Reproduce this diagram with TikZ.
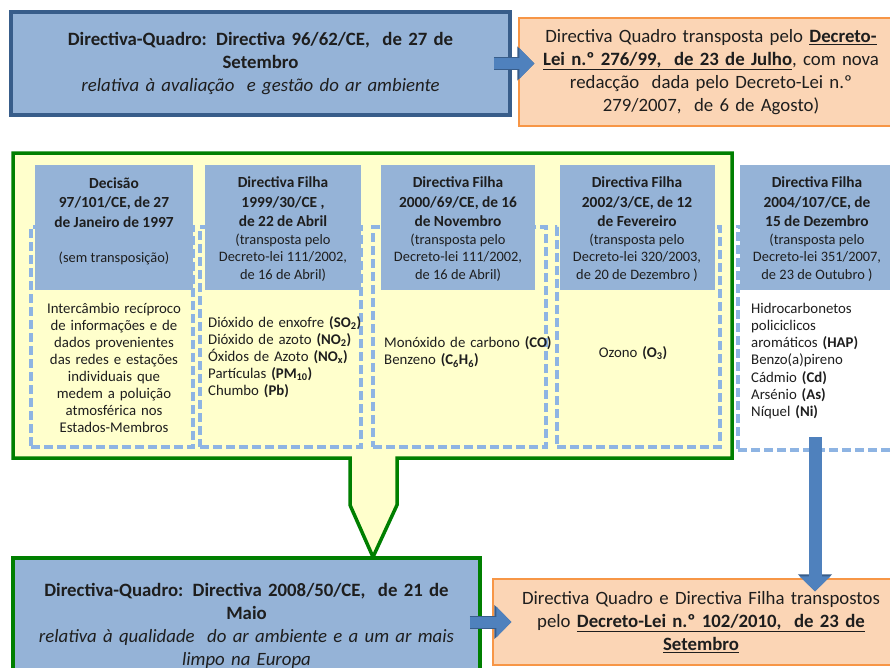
\documentclass[tikz,border=0pt]{standalone}
\usepackage{fontspec}
\setmainfont{Carlito}
\usetikzlibrary{arrows.meta}
\definecolor{hdrblue}{HTML}{95B3D7}
\definecolor{dashblue}{HTML}{8EB4E3}
\definecolor{navy}{HTML}{385D8A}
\definecolor{arrblue}{HTML}{4F81BD}
\definecolor{peach}{HTML}{FBD5B5}
\definecolor{orangeb}{HTML}{F79646}
\definecolor{grn}{HTML}{007F00}
\definecolor{pale}{HTML}{FFFFCC}
\definecolor{ink}{HTML}{1E1E1E}
\newcommand\myBig{\fontsize{18.8}{23}\selectfont}
\newcommand\myHdr{\fontsize{15.4}{19.5}\selectfont\bfseries}
\newcommand\mySub{\fontsize{14.4}{17.5}\selectfont\mdseries}
\newcommand\myBody{\fontsize{14.8}{17.1}\selectfont}
\begin{document}
\begin{tikzpicture}[x=1pt,y=-1pt,
  every node/.style={text=ink, inner sep=0pt},
  bigbox/.style={draw=navy, line width=3.5pt, fill=hdrblue, font=\myBig, align=center},
  greenbox/.style={draw=grn, line width=3.5pt, fill=hdrblue, font=\myBig, align=center},
  peachbox/.style={draw=orangeb, line width=1.3pt, fill=peach, font=\myBig, align=center},
  dbox/.style={draw=dashblue, line width=3.5pt, dash pattern=on 9pt off 4pt, fill=pale},
  hbox/.style={fill=hdrblue, minimum height=125pt},
  htext/.style={text width=165pt, align=center},
  btext/.style={text width=175pt, font=\myBody},
  callout/.style={draw=grn, line width=3.5pt, fill=pale, line join=miter},
  barrow/.style={line width=11pt, draw=arrblue, -{Triangle[length=15pt,width=30pt]},
    preaction={draw=navy, line width=13pt, -{Triangle[length=17pt,width=33pt]}}}
]
\useasboundingbox (0,0) rectangle (890,667);
\clip (0,0) rectangle (890,667);
\fill[white] (0,0) rectangle (890,667);

% green callout
\draw[callout] (13,153) -- (732,153) -- (732,458) -- (397,458) -- (397,505)
  -- (373,557) -- (350,505) -- (350,458) -- (13,458) -- cycle;

% dashed column boxes
\node[dbox, minimum width=162pt, minimum height=220pt] (d1) at (112,337) {};
\node[dbox, minimum width=161pt, minimum height=220pt] (d2) at (280.5,337) {};
\node[dbox, minimum width=173pt, minimum height=220pt] (d3) at (459.5,337) {};
\node[dbox, minimum width=163pt, minimum height=220pt] (d4) at (638.5,337) {};
\node[dbox, fill=white, minimum width=172pt, minimum height=223pt] (d5) at (824,338.5) {};

% header boxes
\node[hbox, minimum width=158pt] (h1) at (114,227.5) {};
\node[hbox, minimum width=156pt] (h2) at (283,227.5) {};
\node[hbox, minimum width=154pt] (h3) at (458,227.5) {};
\node[hbox, minimum width=155pt] (h4) at (637.5,227.5) {};
\node[hbox, minimum width=156pt] (h5) at (818,227.5) {};

% header texts
\node[htext] (h1t) at (114,221) {\myHdr Decisão\\97/101/CE, de 27\\de Janeiro de 1997\par\mySub\vspace{17.5pt}(sem transposição)\par};
\node[htext] (h2t) at (283,229) {\myHdr Directiva Filha\\1999/30/CE ,\\de 22 de Abril\par\mySub (transposta pelo\\Decreto-lei 111/2002,\\de 16 de Abril)\par};
\node[htext] (h3t) at (458,229) {\myHdr Directiva Filha\\2000/69/CE, de 16\\de Novembro\par\mySub (transposta pelo\\Decreto-lei 111/2002,\\de 16 de Abril)\par};
\node[htext] (h4t) at (637,229) {\myHdr Directiva Filha\\2002/3/CE, de 12\\de Fevereiro\par\mySub (transposta pelo\\Decreto-lei 320/2003,\\de 20 de Dezembro )\par};
\node[htext] (h5t) at (817,229) {\myHdr Directiva Filha\\2004/107/CE, de\\15 de Dezembro\par\mySub (transposta pelo\\Decreto-lei 351/2007,\\de 23 de Outubro )\par};

% body texts
\node[btext, align=center] (b1) at (114,368) {Intercâmbio recíproco\\de informações e de\\dados provenientes\\das redes e estações\\individuais que\\medem a poluição\\atmosférica nos\\Estados-Membros};
\node[btext, align=left, anchor=west] (b2) at (208,357) {Dióxido de enxofre \textbf{(SO\textsubscript{2})}\\Dióxido de azoto \textbf{(NO\textsubscript{2})}\\Óxidos de Azoto \textbf{(NO\textsubscript{x})}\\Partículas \textbf{(PM\textsubscript{10})}\\Chumbo \textbf{(Pb)}};
\node[btext, align=left, anchor=west] (b3) at (384,352) {Monóxido de carbono \textbf{(CO)}\\Benzeno \textbf{(C\textsubscript{6}H\textsubscript{6})}};
\node[btext, align=center] (b4) at (633,353) {Ozono \textbf{(O\textsubscript{3})}};
\node[btext, align=left, anchor=west, text width=135pt] (b5) at (751,361) {Hidrocarbonetos\\policiclicos\\aromáticos \textbf{(HAP)}\\Benzo(a)pireno\\Cádmio \textbf{(Cd)}\\Arsénio \textbf{(As)}\\Níquel \textbf{(Ni)}};

% main boxes
\node[bigbox, minimum width=499pt, minimum height=103pt, text width=480pt] (top) at (260.5,63.5)
  {\bfseries Directiva-Quadro: Directiva 96/62/CE,\ \ de 27 de\\Setembro\par\mdseries\itshape relativa à avaliação\ \ e gestão do ar ambiente};
\node[peachbox, minimum width=384pt, minimum height=108pt, text width=375pt] (tr) at (711,72)
  {Directiva Quadro transposta pelo \textbf{\underline{Decreto-}}\\\textbf{\underline{Lei n.º 276/99,\ \ de 23 de Julho}}, com nova\\redacção\ \ dada pelo Decreto-Lei n.º\\279/2007,\ \ de 6 de Agosto)};
\node[greenbox, minimum width=467pt, minimum height=136pt, text width=455pt] (bl) at (246.5,626)
  {\bfseries Directiva-Quadro: Directiva 2008/50/CE,\ \ de 21 de\\Maio\par\mdseries\itshape relativa à qualidade\ \ do ar ambiente e a um ar mais\\limpo na Europa};
\node[peachbox, minimum width=416pt, minimum height=86pt, text width=405pt] (br) at (701,622)
  {Directiva Quadro e Directiva Filha transpostos\\pelo \textbf{\underline{Decreto-Lei n.º 102/2010,\ \ de 23 de}}\\\textbf{\underline{Setembro}}};

% arrows
\draw[barrow, shorten <=-18pt, shorten >=-16pt] (top.east) -- (top.east -| tr.west);
\draw[barrow, shorten <=-12pt, shorten >=-19pt] (bl.east |- br.west) -- (br.west);
\coordinate (a3) at (815,437);
\draw[barrow, line width=13pt, shorten >=-13pt] (a3) -- (a3 |- br.north);
\end{tikzpicture}
\end{document}
